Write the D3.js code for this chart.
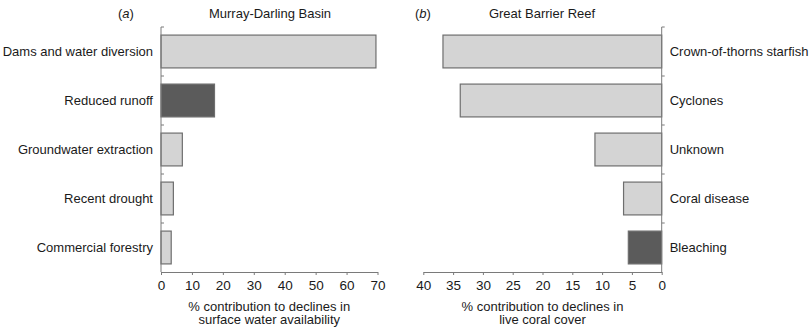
<!DOCTYPE html>
<meta charset="utf-8">
<style>
body { margin: 0; background: #fff; }
text { font-family: "Liberation Sans", Arial, sans-serif; fill: #1a1a1a; }
.axis path, .axis line { stroke: #7a7a7a; }
.axis text { font-size: 13px; fill: #1a1a1a; }
</style>
<svg width="811" height="328"></svg>
<script src="https://cdn.jsdelivr.net/npm/d3@7"></script>
<script>

// panel (a)
var mdbCauses = ["Dams and water diversion", "Reduced runoff", "Groundwater extraction", "Recent drought", "Commercial forestry"];
var mdbValues = [69.5, 17.3, 6.9, 4.0, 3.3];
var mdbDark = [false, true, false, false, false];
var mdbTicks = [0, 10, 20, 30, 40, 50, 60, 70];

// panel (b)
var gbrCauses = ["Crown-of-thorns starfish", "Cyclones", "Unknown", "Coral disease", "Bleaching"];
var gbrValues = [36.7, 33.8, 11.2, 6.4, 5.6];
var gbrDark = [false, false, false, false, true];
var gbrTicks = [40, 35, 30, 25, 20, 15, 10, 5, 0];

var svg = d3.select("svg");
var top0 = 27, bottom0 = 272;

function panel(opts) {
  var g = svg.append("g");
  var x = d3.scaleLinear().domain(opts.domain).range(opts.range);
  var y = d3.scaleBand().domain(opts.cats).range([top0, bottom0]).paddingInner(0.33).paddingOuter(0.165);
  var y0 = d3.scaleBand().domain(opts.cats).range([top0, bottom0]);
  var zero = x(0);

  g.selectAll(".bar")
    .data(opts.cats.map(function(c, i) { return {c: c, v: opts.values[i], dark: opts.dark[i]}; }))
    .enter().append("rect")
      .attr("class", "bar")
      .attr("x", function(d) { return Math.min(zero, x(d.v)); })
      .attr("y", function(d) { return y(d.c); })
      .attr("width", function(d) { return Math.abs(x(d.v) - zero); })
      .attr("height", y.bandwidth())
      .attr("fill", function(d) { return d.dark ? "#5b5b5b" : "#d4d4d4"; })
      .attr("stroke", "#6e6e6e")
      .attr("stroke-width", 1.2);

  // x axis
  var xa = g.append("g")
      .attr("class", "axis")
      .attr("transform", "translate(0," + bottom0 + ")")
      .call(d3.axisBottom(x).tickValues(opts.ticks).tickSize(3).tickPadding(5).tickSizeOuter(0));
  xa.selectAll("text").style("font-size", "13.5px");

  // y axis line with band ticks
  var ya = g.append("g").attr("class", "axis");
  ya.append("line")
      .attr("x1", zero).attr("x2", zero)
      .attr("y1", top0).attr("y2", bottom0);
  ya.selectAll(".bt")
    .data(opts.cats)
    .enter().append("line")
      .attr("x1", zero).attr("x2", zero + opts.tickDir * 3)
      .attr("y1", function(d) { return y0(d); })
      .attr("y2", function(d) { return y0(d); });
  ya.selectAll(".lab")
    .data(opts.cats)
    .enter().append("text")
      .attr("x", zero + opts.labelDx)
      .attr("y", function(d) { return y0(d) + y0.bandwidth() / 2; })
      .attr("dy", "0.35em")
      .attr("text-anchor", opts.labelAnchor)
      .style("font-size", "13px")
      .text(function(d) { return d; });

  // axis title
  var cx = (opts.range[0] + opts.range[1]) / 2;
  var t = g.append("text")
      .attr("x", cx)
      .attr("y", 310.5)
      .attr("text-anchor", "middle")
      .style("font-size", "13px");
  t.append("tspan").attr("x", cx).attr("dy", 0).text(opts.title[0]);
  t.append("tspan").attr("x", cx).attr("dy", 13.5).text(opts.title[1]);

  // panel letter and header
  var h = g.append("text").attr("x", opts.letterX).attr("y", 18).style("font-size", "13px");
  h.append("tspan").text("(");
  h.append("tspan").style("font-style", "italic").text(opts.letter);
  h.append("tspan").text(")");
  g.append("text")
      .attr("x", opts.headX)
      .attr("y", 18)
      .attr("text-anchor", "middle")
      .style("font-size", "13px")
      .text(opts.head);
}

panel({
  cats: mdbCauses, values: mdbValues, dark: mdbDark, ticks: mdbTicks,
  domain: [0, 70], range: [161, 377.5],
  tickDir: 1, labelDx: -8, labelAnchor: "end",
  title: ["% contribution to declines in", "surface water availability"],
  letter: "a", letterX: 118, head: "Murray-Darling Basin", headX: 270
});

panel({
  cats: gbrCauses, values: gbrValues, dark: gbrDark, ticks: gbrTicks,
  domain: [40, 0], range: [423.3, 661.7],
  tickDir: 1, labelDx: 8, labelAnchor: "start",
  title: ["% contribution to declines in", "live coral cover"],
  letter: "b", letterX: 415, head: "Great Barrier Reef", headX: 542
});

</script>
